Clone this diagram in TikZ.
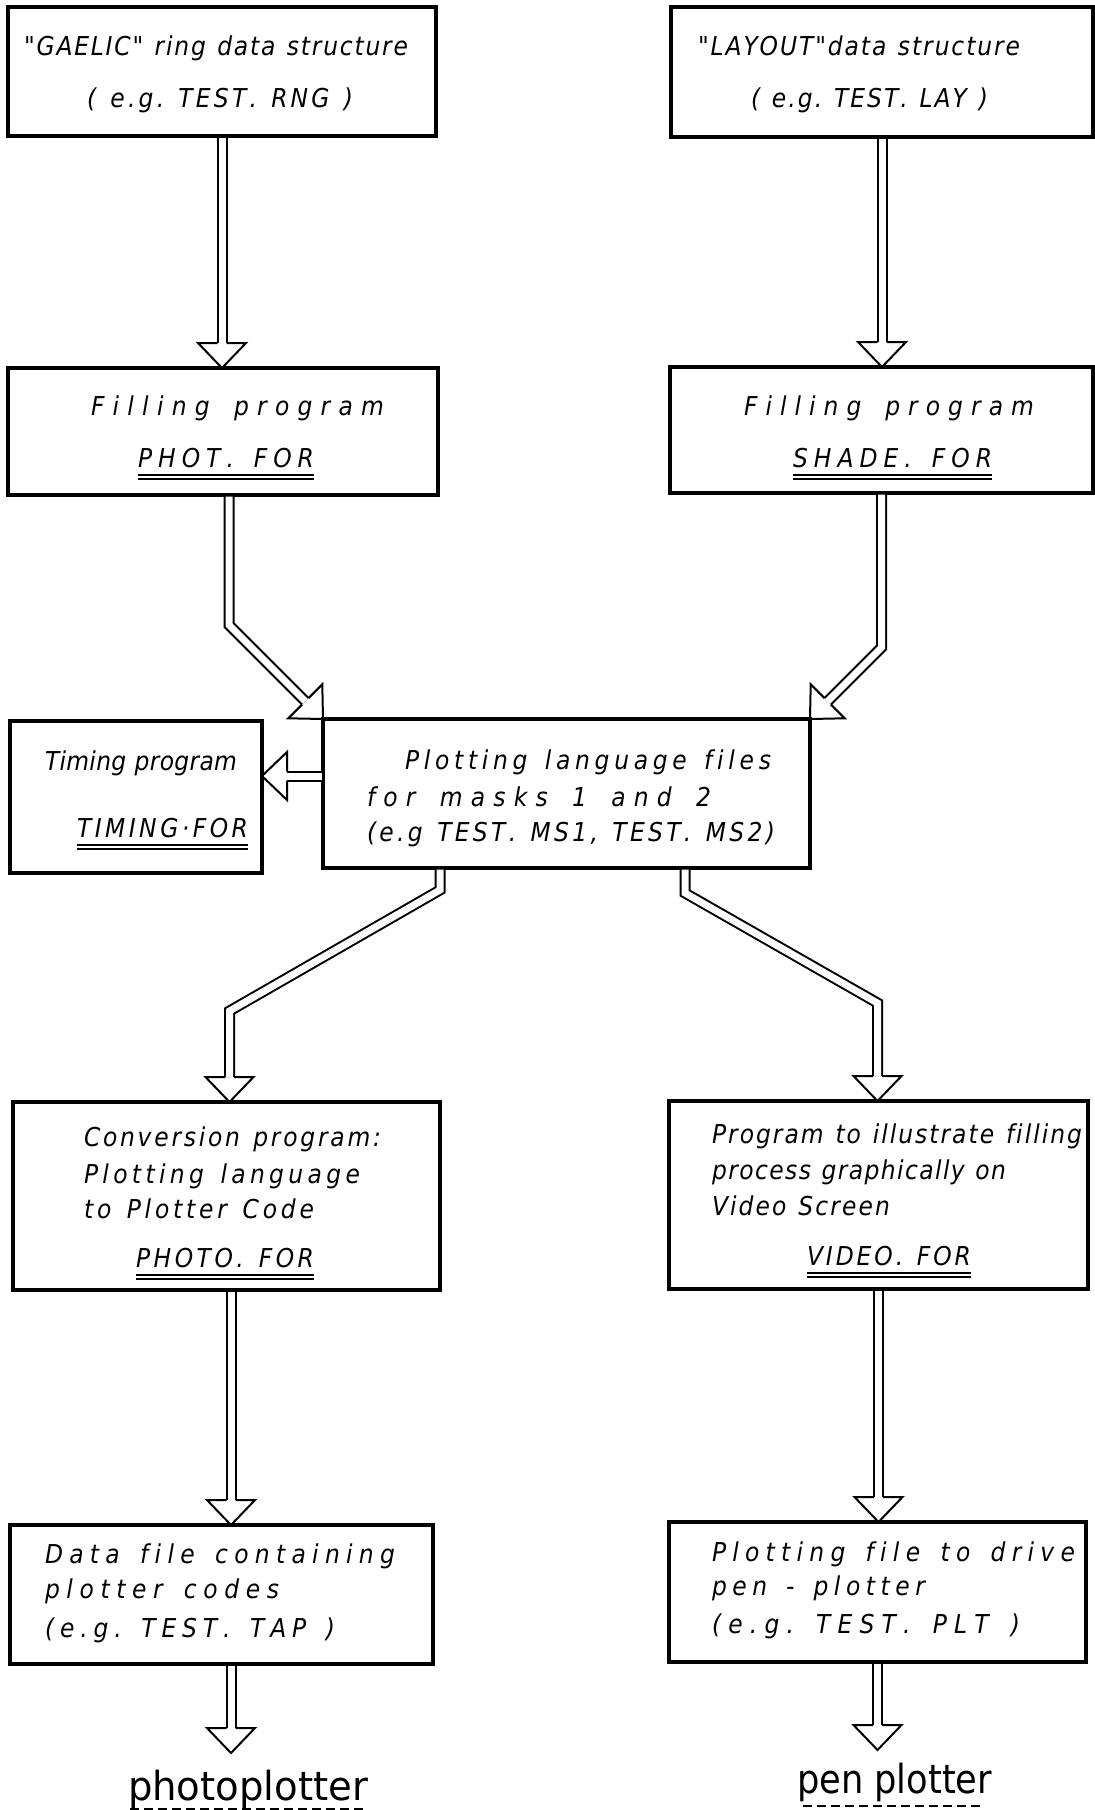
\documentclass[tikz,border=0pt]{standalone}
\usepackage{fontspec}
\setmainfont{DejaVu Sans}
\newfontfamily\condfont{DejaVu Sans Condensed}
\usetikzlibrary{calc}

% stretch a label horizontally to a given width (in pt), keeping its height
\newcommand{\fitw}[2]{\resizebox{#1pt}{\height}{#2}}

% stencil-style lettering: letters spread evenly over a given width (in pt)
\ExplSyntaxOn
\NewDocumentCommand{\spreadto}{mm}
  {
    \hbox_to_wd:nn { #1 pt }
      {
        \str_map_inline:nn {#2}
          {
            \str_if_eq:nnTF {##1} {~}
              { \skip_horizontal:n { 0.3em plus 1fil } }
              { ##1 \skip_horizontal:n { 0pt plus 1fil } }
          }
        \unskip
      }
  }
\ExplSyntaxOff

\tikzset{
  box/.style={draw, line width=3.2pt, rectangle, inner sep=0pt, outer sep=0pt},
  txt/.style={anchor=base west, inner sep=0pt, outer sep=0pt,
              font=\condfont\fontsize{26}{30}\selectfont\itshape},
  dev/.style={anchor=base west, inner sep=0pt, outer sep=0pt,
              font=\condfont\fontsize{40}{46}\selectfont},
  shaft/.style={double, double distance=7pt, line width=2pt, line join=miter,
                shorten <=1.5pt},
  head/.style={line width=2pt, line join=miter},
  uline/.style={line width=1.6pt},
  dline/.style={line width=2.6pt, dash pattern=on 9pt off 5pt},
}

% hollow double-line arrow: #1 shaft points, #2 last shaft point, #3 tip
\newcommand{\flowarrow}[3]{%
  \coordinate (hb) at ($(#3)!25pt!(#2)$);
  \draw[shaft] #1 -- (hb);
  \draw[head] ($(hb)!4.5pt!90:(#3)$) -- ($(hb)!24pt!90:(#3)$) -- (#3)
              -- ($(hb)!24pt!-90:(#3)$) -- ($(hb)!4.5pt!-90:(#3)$);
}

% double underline beneath a program name
\newcommand{\dunder}[1]{%
  \draw[uline] ($(#1.base west)+(0,8)$) -- ($(#1.base east)+(0,8)$);
  \draw[uline] ($(#1.base west)+(0,12)$) -- ($(#1.base east)+(0,12)$);
}

\begin{document}
\begin{tikzpicture}[x=1pt,y=-1pt]
\fill[white] (0,0) rectangle (1095,1810);
\useasboundingbox (0,0) rectangle (1095,1810);

% ---- boxes
\node[box, minimum width=428pt, minimum height=129pt] (A) at (222,71.5) {};
\node[box, minimum width=422pt, minimum height=130pt] (B) at (882,72) {};
\node[box, minimum width=430pt, minimum height=127pt] (C) at (223,431.5) {};
\node[box, minimum width=423pt, minimum height=126pt] (D) at (881.5,430) {};
\node[box, minimum width=487pt, minimum height=149pt] (E) at (566.5,793.5) {};
\node[box, minimum width=252pt, minimum height=152pt] (F) at (136,797) {};
\node[box, minimum width=427pt, minimum height=188pt] (G) at (226.5,1196) {};
\node[box, minimum width=419pt, minimum height=188pt] (H) at (878.5,1195) {};
\node[box, minimum width=423pt, minimum height=139pt] (I) at (221.5,1594.5) {};
\node[box, minimum width=417pt, minimum height=140pt] (J) at (877.5,1592) {};

% ---- lettering
\node[txt] (a1) at (24,55)   {\spreadto{384}{"GAELIC" ring data structure}};
\node[txt] (a2) at (87,107)  {\spreadto{266}{( e.g. TEST. RNG )}};
\node[txt] (b1) at (698,55)  {\spreadto{322}{"LAYOUT"data structure}};
\node[txt] (b2) at (751,107) {\spreadto{237}{( e.g. TEST. LAY )}};

\node[txt] (c1) at (91,415)  {\spreadto{293}{Filling program}};
\node[txt] (c2) at (138,467) {\spreadto{176}{PHOT. FOR}};
\node[txt] (d1) at (744,415) {\spreadto{290}{Filling program}};
\node[txt] (d2) at (793,467) {\spreadto{199}{SHADE. FOR}};

\node[txt] (e1) at (405,769) {\spreadto{366}{Plotting language files}};
\node[txt] (e2) at (367,806) {\spreadto{344}{for masks 1 and 2}};
\node[txt] (e3) at (367,841) {\spreadto{408}{(e.g TEST. MS1, TEST. MS2)}};

\node[txt] (f1) at (45,770)  {\spreadto{192}{Timing program}};
\node[txt] (f2) at (77,837)  {\spreadto{171}{TIMING·FOR}};

\node[txt] (g1) at (84,1146)  {\spreadto{297}{Conversion program:}};
\node[txt] (g2) at (84,1183)  {\spreadto{276}{Plotting language}};
\node[txt] (g3) at (84,1218)  {\spreadto{230}{to Plotter Code}};
\node[txt] (g4) at (136,1267) {\spreadto{178}{PHOTO. FOR}};

\node[txt] (h1) at (712,1143) {\spreadto{370}{Program to illustrate filling}};
\node[txt] (h2) at (712,1179) {\spreadto{294}{process graphically on}};
\node[txt] (h3) at (712,1215) {\spreadto{178}{Video Screen}};
\node[txt] (h4) at (807,1265) {\spreadto{164}{VIDEO. FOR}};

\node[txt] (i1) at (45,1563) {\spreadto{350}{Data file containing}};
\node[txt] (i2) at (45,1598) {\spreadto{234}{plotter codes}};
\node[txt] (i3) at (45,1637) {\spreadto{290}{(e.g. TEST. TAP )}};

\node[txt] (j1) at (712,1561) {\spreadto{363}{Plotting file to drive}};
\node[txt] (j2) at (712,1595) {\spreadto{213}{pen - plotter}};
\node[txt] (j3) at (712,1633) {\spreadto{308}{(e.g. TEST. PLT )}};

\node[dev] (po) at (128,1800) {\fitw{240}{photoplotter}};
\node[dev] (pp) at (797,1793) {\fitw{195}{pen plotter}};

% ---- underlines
\dunder{c2}
\dunder{d2}
\dunder{f2}
\dunder{g4}
\dunder{h4}
\draw[dline] ($(po.base west)+(2,9)$) -- ($(po.base east)+(-4,9)$);
\draw[dline] ($(pp.base west)+(6,13)$) -- ($(pp.base east)+(-10,13)$);

% ---- connectors
\coordinate (tAC) at (A.south |- C.north);
\flowarrow{(A.south)}{A.south}{tAC}
\coordinate (tBD) at (B.south |- D.north);
\flowarrow{(B.south)}{B.south}{tBD}

\coordinate (sCE) at ($(C.south)+(6,0)$);
\coordinate (kCE) at (229,625);
\flowarrow{(sCE) -- (kCE)}{kCE}{E.north west}
\coordinate (kDE) at (881.5,647.5);
\flowarrow{(D.south) -- (kDE)}{kDE}{E.north east}

\coordinate (sEF) at ($(E.west)+(0,-17.5)$);
\coordinate (tEF) at (F.east |- sEF);
\flowarrow{(sEF)}{sEF}{tEF}

\coordinate (sEG) at ($(E.south west)+(117,0)$);
\coordinate (k1EG) at (440,890);
\coordinate (k2EG) at (229.5,1011);
\coordinate (tEG) at (k2EG |- G.north);
\flowarrow{(sEG) -- (k1EG) -- (k2EG)}{k2EG}{tEG}

\coordinate (sEH) at ($(E.south west)+(362,0)$);
\coordinate (k1EH) at (685,893);
\coordinate (k2EH) at (877.5,1003);
\coordinate (tEH) at (k2EH |- H.north);
\flowarrow{(sEH) -- (k1EH) -- (k2EH)}{k2EH}{tEH}

\coordinate (sGI) at ($(G.south)+(4.5,0)$);
\coordinate (tGI) at (sGI |- I.north);
\flowarrow{(sGI)}{sGI}{tGI}
\coordinate (tHJ) at (H.south |- J.north);
\flowarrow{(H.south)}{H.south}{tHJ}

\coordinate (sIP) at ($(I.south)+(9.5,0)$);
\coordinate (tIP) at (231,1753);
\flowarrow{(sIP)}{sIP}{tIP}
\coordinate (tJP) at (J.south |- 0,1750);
\flowarrow{(J.south)}{J.south}{tJP}
\end{tikzpicture}
\end{document}
